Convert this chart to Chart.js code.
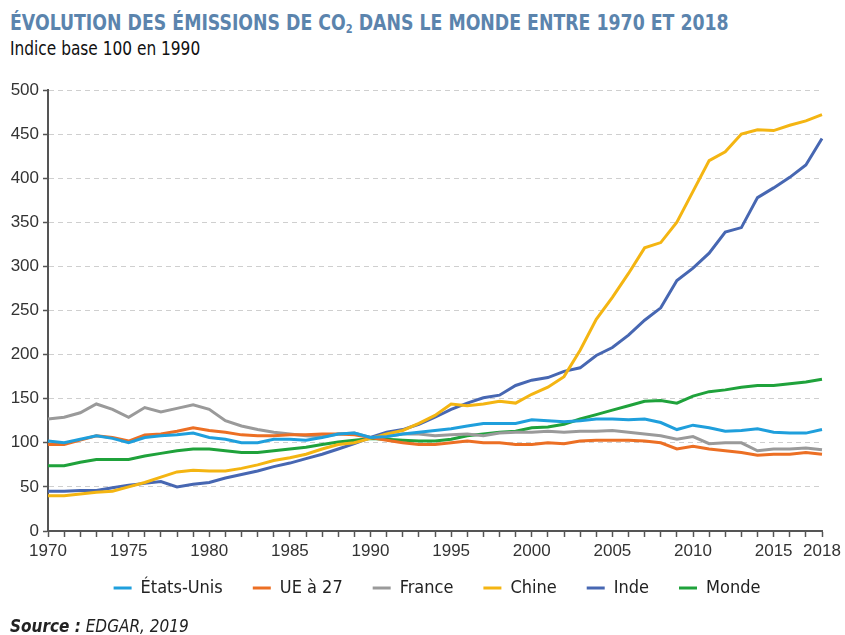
<!DOCTYPE html>
<html lang="fr">
<head>
<meta charset="utf-8">
<title>Évolution des émissions de CO2</title>
<script src="https://cdn.jsdelivr.net/npm/chart.js@4.4.1/dist/chart.umd.min.js"></script>
<style>
    body { margin: 0; background: #fff; }
    #wrap { position: relative; width: 845px; height: 635px; overflow: hidden; }
    .narrow { font-family: "Liberation Sans Narrow", "DejaVu Sans Condensed", "Liberation Sans", sans-serif; transform-origin: 0 0; }
    #title { position: absolute; left: 10px; top: 11px; font-size: 21px; font-weight: bold; color: #5b84ad; white-space: nowrap; transform: scaleX(0.917); }
    #title sub { font-size: 12px; vertical-align: -3px; line-height: 0; }
    #subtitle { position: absolute; left: 10px; top: 37px; font-size: 19px; color: #111; white-space: nowrap; transform: scaleX(0.9); }
    #chart-box { position: absolute; left: 0; top: 68px; width: 845px; height: 555px; }
    #source { position: absolute; left: 10px; top: 616px; font-size: 17px; font-style: italic; color: #222; white-space: nowrap; }
</style>
</head>
<body>
<div id="wrap">
    <div id="title" class="narrow">ÉVOLUTION DES ÉMISSIONS DE CO<sub>2</sub> DANS LE MONDE ENTRE 1970 ET 2018</div>
    <div id="subtitle" class="narrow">Indice base 100 en 1990</div>
    <div id="chart-box"><canvas id="co2-chart" width="845" height="555"></canvas></div>
    <div id="source" class="narrow"><b>Source :</b> EDGAR, 2019</div>
</div>
<script>
// années 1970 -> 2018
const years = [
    1970, 1971, 1972, 1973, 1974, 1975, 1976, 1977, 1978, 1979,
    1980, 1981, 1982, 1983, 1984, 1985, 1986, 1987, 1988, 1989,
    1990, 1991, 1992, 1993, 1994, 1995, 1996, 1997, 1998, 1999,
    2000, 2001, 2002, 2003, 2004, 2005, 2006, 2007, 2008, 2009,
    2010, 2011, 2012, 2013, 2014, 2015, 2016, 2017, 2018
];
// années affichées sous l'axe
const shownYears = [1970, 1975, 1980, 1985, 1990, 1995, 2000, 2005, 2010, 2015, 2018];
const yTicks = [0, 50, 100, 150, 200, 250, 300, 350, 400, 450, 500];

// séries (indice base 100 en 1990)
const etatsUnis = [
    102, 100, 104, 108, 105, 100, 106, 108, 109, 111,
    106, 104, 100, 100, 104, 104, 103, 106, 110, 111,
    106, 107, 110, 112, 114, 116, 119, 122, 122, 122,
    126, 125, 124, 125, 127, 127, 126, 127, 123, 115,
    120, 117, 113, 114, 116, 112, 111, 111, 115
];
const ue27 = [
    98, 98, 103, 108, 106, 102, 109, 110, 113, 117,
    114, 112, 109, 108, 108, 109, 109, 110, 110, 109,
    106, 103, 100, 98, 98, 100, 102, 100, 100, 98,
    98, 100, 99, 102, 103, 103, 103, 102, 100, 93,
    96, 93, 91, 89, 86, 87, 87, 89, 87
];
const france = [
    127, 129, 134, 144, 138, 129, 140, 135, 139, 143,
    138, 125, 119, 115, 112, 110, 108, 107, 110, 111,
    106, 107, 110, 110, 108, 109, 110, 108, 111, 112,
    112, 113, 112, 113, 113, 114, 112, 110, 108, 104,
    107, 99, 100, 100, 91, 93, 93, 94, 92
];
const chine = [
    40, 40, 42, 44, 45, 50, 55, 61, 67, 69,
    68, 68, 71, 75, 80, 83, 87, 93, 98, 100,
    105, 110, 114, 122, 131, 144, 142, 144, 147, 145,
    155, 163, 175, 205, 240, 265, 292, 321, 327, 350,
    385, 420, 430, 450, 455, 454, 460, 465, 472
];
const inde = [
    45, 45, 46, 46, 49, 52, 54, 56, 50, 53,
    55, 60, 64, 68, 73, 77, 82, 87, 93, 99,
    106, 112, 115, 121, 129, 138, 145, 151, 154, 165,
    171, 174, 181, 185, 199, 208, 222, 239, 253, 284,
    298, 315, 339, 344, 378, 389, 401, 415, 445
];
const monde = [
    74, 74, 78, 81, 81, 81, 85, 88, 91, 93,
    93, 91, 89, 89, 91, 93, 95, 98, 101, 103,
    105, 104, 103, 102, 102, 104, 108, 110, 112, 113,
    117, 118, 121, 127, 132, 137, 142, 147, 148, 145,
    153, 158, 160, 163, 165, 165, 167, 169, 172
];

const seriesNames = ['États-Unis', 'UE à 27', 'France', 'Chine', 'Inde', 'Monde'];
const seriesColors = ['#1f9fdc', '#ec6f24', '#9a9a9a', '#f4b512', '#4767b2', '#1fa23b'];

const axisColor = '#555555';
const tickFont = { family: '"Liberation Sans", Arial, sans-serif', size: 17 };
const narrowFont = '"Liberation Sans Narrow", "DejaVu Sans Condensed", "Liberation Sans", sans-serif';

// build datasets
function buildDatasets() {
    let vValues = [etatsUnis, ue27, france, chine, inde, monde];
    return seriesNames.map((name, i) => ({
        label: name,
        data: vValues[i],
        borderColor: seriesColors[i],
        backgroundColor: seriesColors[i],
        borderWidth: 3,
        pointRadius: 0,
        tension: 0,
        fill: false,
    }));
}

// legend : short flat line swatch
function legendLabels(chart) {
    let vItems = Chart.defaults.plugins.legend.labels.generateLabels(chart);
    vItems.forEach((item) => { item.lineWidth = 0; });
    return vItems;
}

// legend padding also spaces the items -> box is tall, so pull it up and nudge it right
const legendTweak = {
    id: 'legendTweak',
    afterLayout(chart) {
        let vLegend = chart.legend;
        vLegend.top -= 16;
        vLegend.bottom -= 16;
        vLegend.left += 26;
        vLegend.right += 26;
    },
};

let vCtx = document.getElementById('co2-chart').getContext('2d');
new Chart(vCtx, {
    type: 'line',
    data: {
        labels: years,
        datasets: buildDatasets(),
    },
    plugins: [legendTweak],
    options: {
        responsive: false,
        animation: false,
        layout: { padding: { left: 0, right: 23, top: 22, bottom: 0 } },
        plugins: {
            title: { display: false },
            tooltip: { enabled: false },
            legend: {
                position: 'bottom',
                labels: {
                    generateLabels: legendLabels,
                    boxWidth: 18,
                    boxHeight: 3,
                    padding: 30,
                    color: '#222',
                    font: { family: narrowFont, size: 18 },
                },
            },
        },
        scales: {
            x: {
                offset: false,
                grid: {
                    drawOnChartArea: false,
                    tickLength: 6,
                    tickColor: axisColor,
                    tickWidth: 1.5,
                },
                border: { color: axisColor, width: 2 },
                ticks: {
                    autoSkip: false,
                    maxRotation: 0,
                    padding: 4,
                    color: '#333',
                    font: tickFont,
                    callback: function (value) {
                        let vYear = years[value];
                        return shownYears.includes(vYear) ? String(vYear) : '';
                    },
                },
                afterFit: (scale) => { scale.height = 34; },
            },
            y: {
                min: 0,
                max: 500,
                afterBuildTicks: (scale) => { scale.ticks = yTicks.map((v) => ({ value: v })); },
                grid: {
                    color: '#cfcfcf',
                    lineWidth: 1,
                    tickLength: 5,
                    tickColor: axisColor,
                    tickWidth: 1.5,
                    tickBorderDash: [],
                },
                border: { color: axisColor, width: 2, dash: [5, 4] },
                ticks: {
                    padding: 4,
                    color: '#333',
                    font: tickFont,
                },
                afterFit: (scale) => { scale.width = 48; },
            },
        },
    },
});
</script>
</body>
</html>
